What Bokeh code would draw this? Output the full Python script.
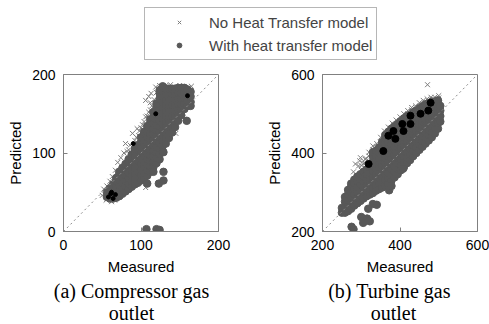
from bokeh.plotting import figure
from bokeh.models import (ColumnDataSource, Legend, LegendItem, Slope, Label,
                          FixedTicker, Range1d)
from bokeh.layouts import column, row
from bokeh.embed import file_html
from bokeh.resources import INLINE

# ---------------- data ----------------
# (a) Compressor gas outlet, "with heat transfer" model, listed per measured value
comp_with_x = [56, 60, 64, 68, 72, 76, 80, 84, 88, 92, 96, 100, 104, 108, 112,
               116, 120, 124, 128, 132, 136, 140, 144, 148, 152, 156, 160, 164]
comp_with_y = [
    [44, 50],
    [42, 49, 55],
    [42, 49, 56, 60],
    [43, 50, 57, 64, 68],
    [45, 52, 59, 66, 73, 76],
    [48, 55, 62, 69, 76, 81],
    [51, 58, 65, 72, 79, 86],
    [54, 61, 68, 75, 82, 89, 92],
    [57, 64, 71, 78, 85, 92, 98],
    [60, 67, 74, 81, 88, 95, 102, 105],
    [62, 69, 76, 83, 90, 97, 104, 110],
    [65, 72, 79, 86, 93, 100, 107, 114, 120],
    [68, 75, 82, 89, 96, 103, 110, 117, 124, 127],
    [71, 78, 85, 92, 99, 106, 113, 120, 127, 134],
    [76, 83, 90, 97, 104, 111, 118, 125, 132, 139, 143],
    [82, 89, 96, 103, 110, 117, 124, 131, 138, 145, 152],
    [87, 94, 101, 108, 115, 122, 129, 136, 143, 150, 157, 163],
    [92, 99, 106, 113, 120, 127, 134, 141, 148, 155, 162, 169, 176, 180],
    [102, 109, 116, 123, 130, 137, 144, 151, 158, 165, 172, 179, 185],
    [112, 119, 126, 133, 140, 147, 154, 161, 168, 175, 182],
    [119, 126, 133, 140, 147, 154, 161, 168, 175, 182],
    [126, 133, 140, 147, 154, 161, 168, 175, 182],
    [133, 140, 147, 154, 161, 168, 175, 182],
    [141, 148, 155, 162, 169, 176, 183],
    [148, 155, 162, 169, 176, 183],
    [156, 163, 170, 177, 183],
    [160, 167, 174, 181],
    [165, 172, 178],
]
comp_with_out_x = [108, 123, 129, 116, 129, 129, 159, 164, 107, 120, 124]
comp_with_out_y = [61, 61, 65, 76, 76, 101, 141, 160, 3, 3, 2]

# (a) "no heat transfer" model
comp_no_x = [50, 55, 62, 66, 52, 56, 60, 63, 67, 70, 74, 78, 80, 84, 89, 92, 97,
             100, 104, 106, 108, 112, 110, 113, 119, 124, 128, 132, 157, 160,
             145, 142, 106, 103, 116, 150, 165, 82, 86, 94, 98, 102, 106, 110,
             114, 117, 120, 95, 112, 138]
comp_no_y = [46, 40, 38, 40, 54, 58, 64, 70, 78, 88, 94, 100, 112, 104, 125,
             116, 122, 132, 140, 167, 147, 155, 172, 176, 184, 186, 185, 186,
             183, 173, 125, 126, 56, 65, 90, 186, 185, 102, 110, 120, 128, 136,
             146, 152, 160, 168, 177, 131, 164, 187]

# (a) samples drawn in black
comp_dark_x = [58, 61, 64, 67, 62, 90, 119, 160]
comp_dark_y = [44, 48, 42, 47, 50, 112, 150, 173]

# (b) Turbine gas outlet, "with heat transfer" model
turb_with_x = [250, 258, 266, 274, 282, 290, 298, 306, 314, 322, 330, 338, 346,
               354, 362, 370, 378, 386, 394, 402, 410, 418, 426, 434, 442, 450,
               458, 466, 474, 482, 490, 498, 504]
turb_with_y = [
    [248, 260],
    [248, 262, 276, 288],
    [252, 266, 280, 294, 306],
    [258, 272, 286, 300, 314, 322],
    [266, 280, 294, 308, 322, 332],
    [272, 286, 300, 314, 328, 340],
    [278, 292, 306, 320, 334, 346],
    [284, 298, 312, 326, 340, 352],
    [290, 304, 318, 332, 346, 358],
    [294, 308, 322, 336, 350, 364],
    [298, 312, 326, 340, 354, 368, 378, 392, 402],
    [304, 318, 332, 346, 360, 374, 380, 394, 406],
    [308, 322, 336, 350, 364, 378, 386, 400, 414],
    [312, 326, 340, 354, 368, 382, 390, 404, 418, 428],
    [318, 332, 346, 360, 374, 388, 396, 410, 424, 438, 446],
    [322, 336, 350, 364, 378, 392, 400, 414, 428, 442, 454],
    [330, 344, 358, 372, 386, 400, 408, 422, 436, 450, 462],
    [338, 352, 366, 380, 394, 408, 416, 430, 444, 458, 468],
    [346, 360, 374, 388, 402, 416, 424, 438, 452, 466, 474],
    [356, 370, 384, 398, 412, 426, 432, 446, 460, 474, 481],
    [364, 378, 392, 406, 420, 434, 440, 454, 468, 482, 488],
    [374, 388, 402, 416, 430, 444, 448, 462, 476, 490, 494],
    [382, 396, 410, 424, 438, 452, 456, 470, 484, 498],
    [392, 406, 420, 434, 448, 462, 476, 490, 504],
    [400, 414, 428, 442, 456, 468, 482, 496, 508],
    [408, 422, 436, 450, 464, 474, 488, 502, 514],
    [416, 430, 444, 458, 472, 480, 494, 508, 519],
    [424, 438, 452, 466, 480, 486, 500, 514, 524],
    [432, 446, 460, 474, 488, 494, 508, 522, 527],
    [440, 454, 468, 482, 496, 500, 514, 528, 531],
    [450, 464, 478, 492, 506, 520, 531],
    [462, 476, 490, 504, 514, 528, 534],
    [480, 494, 508, 520],
]
turb_with_out_x = [275, 280, 300, 315, 305, 322, 330, 340, 318, 372, 378, 408]
turb_with_out_y = [212, 206, 237, 233, 222, 226, 270, 268, 258, 305, 316, 360]

# (b) "no heat transfer" model
turb_no_x = [300, 310, 320, 330, 340, 350, 360, 370, 380, 390, 400, 410, 420,
             430, 440, 450, 460, 470, 480, 490, 500]
turb_no_y = [
    [356, 368],
    [362, 374, 384],
    [368, 380, 392, 402],
    [372, 384, 396, 408, 418],
    [376, 388, 400, 412, 424],
    [380, 392, 404, 416, 428, 440],
    [386, 398, 410, 422, 434, 446, 456],
    [394, 406, 418, 430, 442, 454, 466],
    [402, 414, 426, 438, 450, 462, 476],
    [410, 422, 434, 446, 458, 470, 484],
    [420, 432, 444, 456, 468, 480, 492],
    [430, 442, 454, 466, 478, 490, 500],
    [440, 452, 464, 476, 488, 500, 508],
    [450, 462, 474, 486, 498, 510, 516],
    [460, 472, 484, 496, 508, 520],
    [468, 480, 492, 504, 516, 528],
    [474, 486, 498, 510, 522, 534],
    [480, 492, 504, 516, 528, 538],
    [488, 500, 512, 524, 536, 542],
    [496, 508, 520, 532, 542],
    [504, 516, 528, 540, 546],
]
turb_no_out_x = [290, 293, 306, 319, 303, 285, 296, 312, 252, 258, 265, 270,
                 260, 275, 285, 471, 280, 298, 326]
turb_no_out_y = [341, 367, 374, 359, 354, 372, 380, 386, 262, 270, 278, 284,
                 292, 310, 322, 574, 352, 388, 392]

# (b) samples drawn in black
turb_dark_x = [479, 453, 427, 427, 406, 409, 383, 370, 388, 357, 473, 319]
turb_dark_y = [528, 500, 495, 474, 474, 456, 456, 444, 436, 405, 508, 372]

comp_ticks = [0, 100, 200]
turb_ticks = [200, 400, 600]

# ---------------- styling ----------------
CIRCLE_COLOR = "#585858"
CROSS_COLOR = "#7c7c7c"
FRAME_COLOR = "#808080"
SANS = "Liberation Sans"
SERIF = "Liberation Serif"


def expand(xs, cols):
    mx, my = [], []
    for x, ys in zip(xs, cols):
        for y in ys:
            mx.append(x)
            my.append(y)
    return mx, my


def style_axes(p, ticks):
    p.xgrid.visible = False
    p.ygrid.visible = False
    p.outline_line_color = FRAME_COLOR
    for ax in (p.xaxis[0], p.yaxis[0]):
        ax.ticker = FixedTicker(ticks=ticks)
        ax.major_tick_in = 4
        ax.major_tick_out = 0
        ax.minor_tick_in = 0
        ax.minor_tick_out = 0
        ax.axis_line_color = FRAME_COLOR
        ax.major_tick_line_color = FRAME_COLOR
        ax.major_label_text_font = SANS
        ax.major_label_text_font_size = "14px"
        ax.major_label_text_color = "black"
        ax.major_label_standoff = 8
        ax.axis_label_text_font = SANS
        ax.axis_label_text_font_size = "15px"
        ax.axis_label_text_font_style = "normal"
        ax.axis_label_text_color = "black"
        ax.axis_label_standoff = 5


def panel(width, left, right, lo, hi, ticks):
    p = figure(width=width, height=212, x_range=Range1d(lo, hi),
               y_range=Range1d(lo, hi), min_border_left=left,
               min_border_right=right, min_border_top=8, min_border_bottom=47,
               toolbar_location=None, output_backend="svg",
               x_axis_label="Measured", y_axis_label="Predicted")
    style_axes(p, ticks)
    p.add_layout(Slope(gradient=1, y_intercept=0, line_color="#8a8a8a",
                       line_dash="2 3", line_width=1))
    return p


def draw(p, no_x, no_y, with_x, with_y, dark_x, dark_y, dark_size):
    # crosses first, the heat-transfer circles over them, black samples on top
    p.scatter(no_x, no_y, marker="x", size=7, line_color=CROSS_COLOR, line_width=1)
    p.scatter(with_x, with_y, marker="circle", size=7.5, fill_color=CIRCLE_COLOR,
              line_color=CIRCLE_COLOR)
    p.scatter(dark_x, dark_y, marker="circle", size=dark_size, fill_color="black",
              line_color="black")


# (a) compressor
cw_x, cw_y = expand(comp_with_x, comp_with_y)
pa = panel(258, 63, 40, 0, 200, comp_ticks)
draw(pa, comp_no_x, comp_no_y, cw_x + comp_with_out_x, cw_y + comp_with_out_y,
     comp_dark_x, comp_dark_y, 4)

# (b) turbine
tw_x, tw_y = expand(turb_with_x, turb_with_y)
tn_x, tn_y = expand(turb_no_x, turb_no_y)
pb = panel(231, 64, 12, 200, 600, turb_ticks)
draw(pb, tn_x + turb_no_out_x, tn_y + turb_no_out_y, tw_x + turb_with_out_x,
     tw_y + turb_with_out_y, turb_dark_x, turb_dark_y, 7)


def strip(height):
    s = figure(width=489, height=height, x_range=Range1d(0, 489),
               y_range=Range1d(0, height), toolbar_location=None,
               output_backend="svg", x_axis_location=None, y_axis_location=None,
               min_border=0)
    s.xgrid.visible = False
    s.ygrid.visible = False
    s.outline_line_color = None
    return s


# shared legend strip (legend swatches use off-range proxy renderers)
top = strip(66)
proxy = ColumnDataSource(data=dict(x=[-50], y=[-50]))
r_no = top.scatter("x", "y", source=proxy, marker="x", line_color=CROSS_COLOR,
                   line_width=1)
r_with = top.scatter("x", "y", source=proxy, marker="circle",
                     fill_color=CIRCLE_COLOR, line_color=CIRCLE_COLOR)
legend = Legend(items=[LegendItem(label="No Heat Transfer model", renderers=[r_no]),
                       LegendItem(label="With heat transfer model", renderers=[r_with])],
                location=(144, 6), glyph_width=60, glyph_height=12,
                label_height=20, label_standoff=0, padding=4, spacing=3,
                label_text_font=SANS, label_text_font_size="15px",
                border_line_color="#6e6e6e", border_line_width=1,
                background_fill_color="white")
top.add_layout(legend)

# caption strip
bottom = strip(46)
captions = [("(a) Compressor gas", 131, 34), ("outlet", 131, 12),
            ("(b) Turbine gas", 389, 34), ("outlet", 393, 12)]
for txt, cx, cy in captions:
    bottom.add_layout(Label(x=cx, y=cy, text=txt, text_font=SERIF,
                            text_font_size="20px", text_align="center",
                            text_baseline="middle", text_color="black"))

layout = column(top, row(pa, pb), bottom)
open("out.html", "w").write(file_html(layout, INLINE))
